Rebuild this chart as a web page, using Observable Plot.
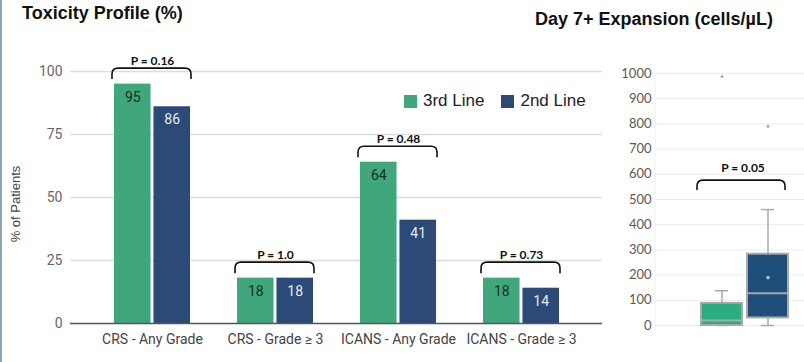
<!DOCTYPE html>
<html><head><meta charset="utf-8">
<script src="https://cdn.jsdelivr.net/npm/d3@7"></script>
<script src="https://cdn.jsdelivr.net/npm/@observablehq/plot@0.6"></script>
<style>
body{margin:0;background:#fff;width:804px;height:362px;overflow:hidden;position:relative;font-family:Roboto,sans-serif}
#edge{position:absolute;left:0;top:0;width:2px;height:362px;background:#8ea3b6}
.title{position:absolute;font-family:"Liberation Sans",Arial,sans-serif;font-weight:bold;font-size:18px;color:#111;white-space:nowrap;line-height:1}
#left{position:absolute;left:0;top:0}
#right{position:absolute;left:600px;top:0}
#ylab{position:absolute;left:15px;top:204px;transform:translate(-50%,-50%) rotate(-90deg);font-family:"Liberation Sans",Arial,sans-serif;font-size:13px;color:#444;white-space:nowrap}
#legend{position:absolute;left:404px;top:91px;font-family:"Liberation Sans",Arial,sans-serif;font-size:17px;color:#222;display:flex;align-items:center;white-space:nowrap}
#legend .sw{display:inline-block;width:13px;height:13px;margin-right:6px}
#legend .it{display:flex;align-items:center;margin-right:17px}
</style>
</head><body>
<div id="edge"></div>
<div class="title" style="left:22px;top:4px">Toxicity Profile (%)</div>
<div class="title" style="left:535px;top:10px">Day 7+ Expansion (cells/µL)</div>
<div id="left"></div>
<div id="right"></div>
<div id="ylab">% of Patients</div>
<div id="legend"></div>
<script>
// ---- data: toxicity profile ----
const categories = ["CRS - Any Grade", "CRS - Grade ≥ 3", "ICANS - Any Grade", "ICANS - Grade ≥ 3"];
const series = ["3rd Line", "2nd Line"];
const thirdLine = [95, 18, 64, 18];
const secondLine = [86, 18, 41, 14];
const pValues = ["P = 0.16", "P = 1.0", "P = 0.48", "P = 0.73"];
const yTicks = [0, 25, 50, 75, 100];

// ---- data: day 7+ expansion (box summary) ----
const boxGroups = ["3rd Line", "2nd Line"];
const boxMin = [0, 0];
const boxQ1 = [0, 30];
const boxMedian = [20, 128];
const boxQ3 = [88, 283];
const boxMax = [138, 460];
const boxMean = [105, 190];
const outlierGroups = ["3rd Line", "2nd Line"];
const outlierValues = [988, 790];
const expansionP = "P = 0.05";
const expTicks = [0, 100, 200, 300, 400, 500, 600, 700, 800, 900, 1000];

const colors = ["#40a77c", "#2b4a78"];
const boxColors = ["#2aae7f", "#1f4e7b"];

// legend
const leg = document.getElementById("legend");
series.forEach((s, i) => {
  const it = document.createElement("div"); it.className = "it";
  it.innerHTML = `<span class="sw" style="background:${colors[i]}"></span>${s}`;
  leg.appendChild(it);
});

// ---- left chart ----
const bars = categories.flatMap((c, i) => [
  {category: c, series: series[0], value: thirdLine[i]},
  {category: c, series: series[1], value: secondLine[i]}
]);
const groups = categories.map((c, i) => ({category: c, p: pValues[i], top: Math.max(thirdLine[i], secondLine[i])}));
const W = 612, mL = 70, mR = 10;
const pi = 0.384, po = 0.35;
const step = (W - mL - mR) / (categories.length - pi + 2 * po);
const bw = step * (1 - pi);
const half = bw / 2 + 1.5;
const off = bw / 4 + 0.75;

const leftChart = Plot.plot({
  width: W, height: 362, marginLeft: mL, marginRight: mR, marginTop: 71, marginBottom: 39,
  style: {fontFamily: "Roboto, sans-serif", fontSize: "14px", background: "transparent"},
  x: {domain: categories, paddingInner: pi, paddingOuter: po, label: null, axis: null},
  y: {domain: [0, 100], label: null, axis: null},
  color: {domain: series, range: colors},
  marks: [
    Plot.gridY(yTicks.filter(d => d > 0), {stroke: "#dcdcdc", strokeOpacity: 1, strokeWidth: 1.3}),
    Plot.barY(bars.filter(d => d.series === series[0]), {x: "category", y: "value", fill: "series", insetRight: half}),
    Plot.barY(bars.filter(d => d.series === series[1]), {x: "category", y: "value", fill: "series", insetLeft: half}),
    Plot.ruleY([0], {stroke: "#555", strokeWidth: 1.3}),
    Plot.text(bars.filter(d => d.series === series[0]), {x: "category", y: "value", text: d => String(d.value), dx: -off, dy: 13, fill: "#13301f", fontSize: 14}),
    Plot.text(bars.filter(d => d.series === series[1]), {x: "category", y: "value", text: d => String(d.value), dx: off, dy: 13, fill: "#e4eaf2", fontSize: 14}),
    Plot.text(groups, {x: "category", y: "top", text: "p", dy: -23, fontFamily: "Lato, sans-serif", fontWeight: "bold", fontSize: 12, fill: "#111"}),
    Plot.axisY(yTicks, {tickSize: 0, tickPadding: 8, fontSize: 14, fill: "#666", label: null}),
    Plot.axisX({tickSize: 0, tickPadding: 11, fontSize: 14, fill: "#444", label: null})
  ]
});
document.getElementById("left").appendChild(leftChart);
{
  const xs = leftChart.scale("x"), ys = leftChart.scale("y");
  const g = d3.select(leftChart).append("g").attr("fill", "none").attr("stroke", "#111").attr("stroke-width", 1.6);
  groups.forEach(d => {
    const x0 = xs.apply(d.category) - 2, x1 = xs.apply(d.category) + xs.bandwidth + 1;
    const yt = ys.apply(d.top) - 15.5, ye = yt + 11, r = 6;
    g.append("path").attr("d", `M${x0},${ye}L${x0},${yt + r}Q${x0},${yt} ${x0 + r},${yt}L${x1 - r},${yt}Q${x1},${yt} ${x1},${yt + r}L${x1},${ye}`);
  });
}

// ---- right chart ----
const boxes = boxGroups.map((g, i) => ({group: g, min: boxMin[i], q1: boxQ1[i], median: boxMedian[i], q3: boxQ3[i], max: boxMax[i], mean: boxMean[i]}));
const outliers = outlierGroups.map((g, i) => ({group: g, value: outlierValues[i]}));
const bracketTop = Math.max(...boxMax) + 115;
const rightChart = Plot.plot({
  width: 204, height: 362, marginLeft: 55, marginRight: 0, marginTop: 73, marginBottom: 37,
  style: {fontFamily: "Lato, sans-serif", fontSize: "13px", background: "transparent"},
  x: {domain: boxGroups, range: [100, 189], paddingInner: 0.106, paddingOuter: 0, axis: null},
  y: {domain: [0, 1000], axis: null},
  color: {domain: boxGroups, range: boxColors},
  marks: [
    Plot.gridY(expTicks, {stroke: "#ececec", strokeOpacity: 1}),
    Plot.ruleX(boxes, {x: "group", y1: "min", y2: "max", stroke: "#a9a9a9", strokeWidth: 1.5}),
    Plot.barY(boxes, {x: "group", y1: "q1", y2: "q3", fill: "group", stroke: "#a9a9a9", strokeWidth: 2}),
    Plot.tickY(boxes, {x: "group", y: "median", stroke: "#a9a9a9", strokeWidth: 2}),
    Plot.tickY(boxes, {x: "group", y: "max", stroke: "#a9a9a9", strokeWidth: 1.5, insetLeft: 14, insetRight: 14}),
    Plot.tickY(boxes, {x: "group", y: "min", stroke: "#a9a9a9", strokeWidth: 1.5, insetLeft: 14, insetRight: 14}),
    Plot.dot(boxes, {x: "group", y: "mean", r: 1.6, fill: "#c8d0da", stroke: "none", symbol: "square"}),
    Plot.dot(outliers, {x: "group", y: "value", r: 1.3, fill: "#a0a0a0", stroke: "none"}),
    Plot.text([expansionP], {x: () => boxGroups[0], y: () => bracketTop, text: d => d, dx: 21, dy: -12, fontFamily: "Lato, sans-serif", fontWeight: "bold", fontSize: 12, fill: "#111"}),
    Plot.axisY(expTicks, {tickSize: 0, tickPadding: 4, fontSize: 13, fill: "#595959", label: null, tickFormat: d => String(d)})
  ]
});
document.getElementById("right").appendChild(rightChart);
{
  const xs = rightChart.scale("x"), ys = rightChart.scale("y");
  const x0 = xs.apply(boxGroups[0]) - 4, x1 = xs.apply(boxGroups[1]) + xs.bandwidth - 3;
  const yt = ys.apply(bracketTop), ye = yt + 10, r = 6;
  d3.select(rightChart).append("path").attr("fill", "none").attr("stroke", "#111").attr("stroke-width", 1.6)
    .attr("d", `M${x0},${ye}L${x0},${yt + r}Q${x0},${yt} ${x0 + r},${yt}L${x1 - r},${yt}Q${x1},${yt} ${x1},${yt + r}L${x1},${ye}`);
  d3.select(rightChart).append("line").attr("x1", 55).attr("x2", 55).attr("y1", 73).attr("y2", 325).attr("stroke", "#f0f0f0");
}
</script>
</body></html>
